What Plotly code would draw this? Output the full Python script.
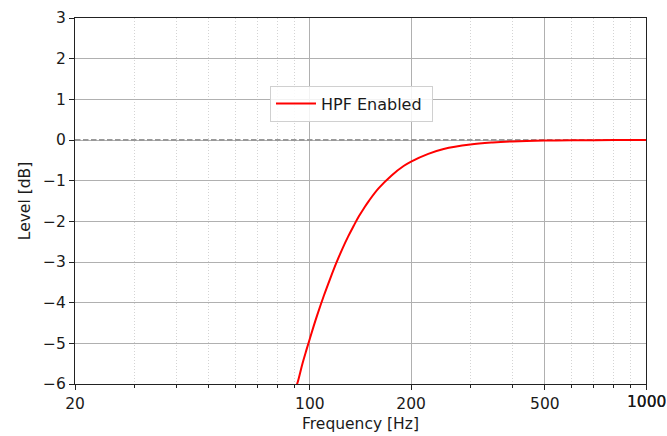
import plotly.graph_objects as go

# Data
freq_hz = [90, 92, 95, 97.5, 100, 102.5, 105, 110, 115, 120, 125, 130, 135, 140, 145, 150,
           160, 175, 190, 200, 225, 250, 300, 350, 400, 500, 600, 800, 1000]
level_db = [-6.19, -5.95, -5.50, -5.18, -4.88, -4.59, -4.32, -3.83, -3.40, -3.01, -2.67, -2.37,
            -2.11, -1.87, -1.67, -1.49, -1.19, -0.87, -0.64, -0.53, -0.34, -0.22, -0.11,
            -0.06, -0.035, -0.014, -0.007, -0.002, -0.001]
ref_level = [0, 0]
ref_freq = [20, 1000]

x_ticks = [20, 100, 200, 500, 1000]
x_ticklabels = ["20", "100", "200", "500", ""]
x_minor = [30, 40, 50, 60, 70, 80, 90, 300, 400, 600, 700, 800, 900]
y_ticks = [-6, -5, -4, -3, -2, -1, 0, 1, 2, 3]
y_ticklabels = ["\u22126", "\u22125", "\u22124", "\u22123", "\u22122", "\u22121", "0", "1", "2", "3"]

font = "DejaVu Sans"
FS = 15.5

fig = go.Figure()
fig.add_trace(go.Scatter(x=ref_freq, y=ref_level, mode="lines",
                         line=dict(color="#999999", width=2, dash="5.5px,2.5px"),
                         showlegend=False, hoverinfo="skip"))
fig.add_trace(go.Scatter(x=freq_hz, y=level_db, mode="lines", name="HPF Enabled ",
                         line=dict(color="#ff0000", width=2, shape="spline")))

fig.update_layout(
    width=667, height=436,
    margin=dict(l=75, r=21, t=18, b=52, autoexpand=False),
    paper_bgcolor="white", plot_bgcolor="white",
    font=dict(family=font, size=FS, color="#1a1a1a"),
    legend=dict(x=0.3415, y=0.815, xanchor="left", yanchor="top",
                bgcolor="rgba(255,255,255,0.85)", bordercolor="#d0d0d0", borderwidth=1,
                font=dict(size=16), itemwidth=40),
    annotations=[dict(x=3, y=0, xref="x", yref="paper", text="1000", showarrow=False,
                      yanchor="top", yshift=-7, xshift=dx, font=dict(size=FS, color="#1a1a1a"))
                 for dx in (0, 0.6)],
)
fig.update_xaxes(
    type="log", range=[1.30103, 3], tickmode="array", tickvals=x_ticks, ticktext=x_ticklabels,
    showline=True, mirror=True, linecolor="#222", linewidth=1.2,
    ticks="outside", ticklen=5, tickcolor="#222",
    showgrid=True, gridcolor="#b0b0b0", gridwidth=1,
    minor=dict(tickmode="array", tickvals=x_minor, ticks="outside", ticklen=3, tickcolor="#222",
               showgrid=True, gridcolor="#d4d4d4", griddash="1px,2px", gridwidth=1),
    title=dict(text="Frequency [Hz]", standoff=6, font=dict(size=FS)),
    zeroline=False, automargin=False,
)
fig.update_yaxes(
    range=[-6, 3], tickmode="array", tickvals=y_ticks, ticktext=y_ticklabels,
    showline=True, mirror=True, linecolor="#222", linewidth=1.2,
    ticks="outside", ticklen=5, tickcolor="#222",
    showgrid=True, gridcolor="#b0b0b0", gridwidth=1,
    title=dict(text="Level [dB]", standoff=8, font=dict(size=FS)),
    zeroline=False, automargin=False,
)
fig.write_html("out.html", config={"displayModeBar": False},
               post_script="document.body.style.margin='0';document.body.style.overflow='hidden';")
